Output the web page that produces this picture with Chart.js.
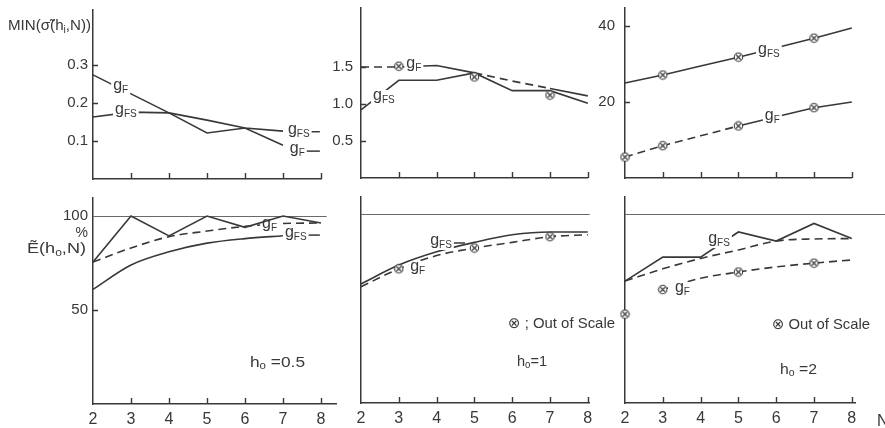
<!DOCTYPE html>
<html>
<head>
<meta charset="utf-8">
<title>MIN σ̃(hi,N) and Ẽ(h0,N) against N</title>
<script src="https://cdn.jsdelivr.net/npm/chart.js@4.4.1/dist/chart.umd.min.js"></script>
<style>
  html, body { margin: 0; padding: 0; background: #fff; }
  #stage { position: relative; width: 885px; height: 428px; overflow: hidden; }
  #stage canvas { position: absolute; left: 0; top: 0; }
</style>
</head>
<body>
<div id="stage"></div>
<script>
// ---------- data ----------
const N = [2, 3, 4, 5, 6, 7, 8];
const N_TO_7 = [2, 3, 4, 5, 6, 7];
const N_TICKS = [2, 3, 4, 5, 6, 7, 8];

// upper row: MIN(σ̃(hi,N))
const SIGMA_05_TICKS = [0.1, 0.2, 0.3];
const sigma05_gF  = [0.274, 0.224, 0.174, 0.121, 0.134, 0.089];
const sigma05_gFS = [0.163, 0.176, 0.174, 0.155, 0.134, 0.126];

const SIGMA_1_TICKS = [0.5, 1.0, 1.5];
const sigma1_gF  = [1.5, 1.5, 1.52, 1.42, 1.31, 1.21, 1.11];
const sigma1_gFS = [0.92, 1.32, 1.32, 1.42, 1.18, 1.18, 1.01];
const sigma1_outOfScale = [null, 1.51, null, 1.365, null, 1.12, null];

const SIGMA_2_TICKS = [20, 40];
const sigma2_gF  = [5.5, 8.5, 11.1, 13.7, 16.1, 18.5, 20];
const sigma2_gFS = [25, 27.1, 29.5, 31.8, 34.3, 36.8, 39.5];
const sigma2_gF_outOfScale  = [5.5, 8.5, null, 13.7, null, 18.5, null];
const sigma2_gFS_outOfScale = [null, 27.1, null, 31.8, null, 36.8, null];

// lower row: Ẽ(h0,N) in %
const EFF_TICKS = [50, 100];
const FULL_EFFICIENCY = 100;
const eff05_observed = [75.5, 100, 89.4, 100, 94, 100, 96.3];
const eff05_gF  = [75.5, 83, 89, 92, 94.5, 96, 96.3];
const eff05_gFS = [61, 74, 81, 85.6, 88, 89.5];

const eff1_gF  = [61.5, 71, 78, 82, 85, 88, 89];
const eff1_gFS = [63, 73, 80, 85, 89, 90.5, 90.5];
const eff1_outOfScale = [null, 71, null, 82, null, 88, null];

const eff2_observed = [64.5, 77.2, 77.2, 90.5, 85.7, 95, 87];
const eff2_gFS = [64.5, 71, 76.5, 81, 85.7, 86.8, 87];
const eff2_gF  = [null, 60, 66, 69.3, 72, 74, 75.7];
const eff2_outOfScale = [47, 60, null, 69.3, null, 74, null];

// ---------- styling helpers ----------
const INK = '#383838';
const FAMILY = '"Liberation Sans", "DejaVu Sans", Arial, sans-serif';
const DASH = [8, 5];

// ⊗ marker for values that lie out of scale
const OTIMES = (() => {
  const c = document.createElement('canvas');
  c.width = 11; c.height = 11;
  const g = c.getContext('2d');
  g.fillStyle = '#fff'; g.strokeStyle = INK; g.lineWidth = 1.1;
  g.beginPath(); g.arc(5.5, 5.5, 4.2, 0, Math.PI * 2); g.fill(); g.stroke();
  const d = 2.5;
  g.beginPath();
  g.moveTo(5.5 - d, 5.5 - d); g.lineTo(5.5 + d, 5.5 + d);
  g.moveTo(5.5 + d, 5.5 - d); g.lineTo(5.5 - d, 5.5 + d);
  g.stroke();
  return c;
})();

const pts = (xs, ys) => xs.map((x, i) => ({ x, y: ys[i] }));
function curve(xs, ys, extra) {
  return Object.assign({
    data: pts(xs, ys), borderColor: INK, borderWidth: 1.6, pointRadius: 0,
    fill: false, clip: false, spanGaps: false, tension: 0
  }, extra || {});
}
const SMOOTH = { cubicInterpolationMode: 'monotone' };
const DASHED = { borderDash: DASH };
const dashOn = idx => ({ segment: { borderDash: c => (idx.includes(c.p0DataIndex) ? DASH : undefined) } });
function marks(xs, ys) {
  return {
    data: pts(xs, ys), showLine: false, pointStyle: OTIMES, pointRadius: 5,
    clip: false, borderColor: INK, backgroundColor: '#fff'
  };
}

function font(px) { return px + 'px ' + FAMILY; }
function measureRich(ctx, parts, size, subSize) {
  let w = 0;
  for (const [t, sub] of parts) { ctx.font = font(sub ? subSize : size); w += ctx.measureText(t).width; }
  return w;
}
// parts: [text, isSubscript]; x = left edge, y = baseline; optional fitted width
function drawRich(ctx, parts, x, y, size, subSize, drop, fitWidth) {
  const w = measureRich(ctx, parts, size, subSize);
  const sx = fitWidth ? fitWidth / w : 1;
  ctx.save();
  ctx.textAlign = 'left'; ctx.textBaseline = 'alphabetic';
  ctx.translate(x, y); ctx.scale(sx, 1);
  let cx = 0;
  for (const [t, sub] of parts) {
    ctx.font = font(sub ? subSize : size);
    ctx.fillText(t, cx, sub ? drop : 0);
    cx += ctx.measureText(t).width;
  }
  ctx.restore();
  return w * sx;
}

// curve names (gF / gFS) written along the lines
function drawLabels(chart, list) {
  const { ctx, scales: { x, y } } = chart;
  list.forEach(l => {
    const px = x.getPixelForValue(l.x), py = y.getPixelForValue(l.y);
    const parts = [['g', false], [l.sub, true]];
    ctx.save();
    const w = measureRich(ctx, parts, 16, 10);
    const padL = l.padL || 2;
    ctx.fillStyle = '#fff';
    ctx.fillRect(px - padL, py - 7, w + padL + 2, 15);
    ctx.fillStyle = INK;
    drawRich(ctx, parts, px, py + 3, 16, 10, 3);
    if (l.tail) {
      ctx.strokeStyle = INK; ctx.lineWidth = 1.5;
      ctx.beginPath();
      ctx.moveTo(px + w + 2, py + 1); ctx.lineTo(x.getPixelForValue(l.tail), py + 1);
      ctx.stroke();
    }
    ctx.restore();
  });
}

function panelInk(p) {
  return {
    id: 'panelInk',
    beforeDatasetsDraw(chart) {
      if (!p.refTo) return;
      const { ctx, scales: { x, y } } = chart;
      const py = Math.round(y.getPixelForValue(FULL_EFFICIENCY)) + 0.5;
      ctx.save();
      ctx.strokeStyle = '#6a6a6a'; ctx.lineWidth = 1;
      ctx.beginPath();
      ctx.moveTo(x.getPixelForValue(2), py); ctx.lineTo(x.getPixelForValue(p.refTo), py);
      ctx.stroke();
      ctx.restore();
    },
    afterDatasetDraw(chart, args) {
      drawLabels(chart, p.labels.filter(l => l.layer === args.index));
    },
    afterDatasetsDraw(chart) {
      drawLabels(chart, p.labels.filter(l => l.layer == null));
      const { ctx, scales: { x, y } } = chart;
      ctx.save();
      ctx.strokeStyle = INK; ctx.lineWidth = 1.4;
      ctx.beginPath();
      const by = y.getPixelForValue(0);
      N_TICKS.slice(1).forEach(v => {
        const px = Math.round(x.getPixelForValue(v)) + 0.5;
        ctx.moveTo(px, by); ctx.lineTo(px, by - 6);
      });
      const lx = x.getPixelForValue(2);
      (p.yMarks || []).forEach(v => {
        const py = Math.round(y.getPixelForValue(v)) + 0.5;
        ctx.moveTo(lx, py); ctx.lineTo(lx + 5, py);
      });
      ctx.stroke();
      ctx.restore();
    }
  };
}

const pageText = {
  id: 'pageText',
  afterDraw(chart) {
    const ctx = chart.ctx;
    ctx.save();
    ctx.fillStyle = INK;
    drawRich(ctx, [['MIN(σ̃(h', false], ['i', true], [',N))', false]], 8, 30, 15, 10, 3, 83);
    ctx.font = font(14); ctx.textAlign = 'right'; ctx.textBaseline = 'alphabetic';
    ctx.fillText('%', 88, 237);
    drawRich(ctx, [['Ẽ(h', false], ['o', true], [',N)', false]], 27, 253, 15, 10, 3, 59);
    drawRich(ctx, [['h', false], ['o', true], [' =0.5', false]], 250, 367, 15, 10, 2, 55);
    drawRich(ctx, [['h', false], ['o', true], ['=1', false]], 517, 366, 15, 10, 2, 30);
    drawRich(ctx, [['h', false], ['o', true], [' =2', false]], 780, 374, 15, 10, 2, 37);
    drawRich(ctx, [['⊗ ; Out of Scale', false]], 508, 328, 15, 10, 0, 107);
    drawRich(ctx, [['⊗ Out of Scale', false]], 772, 329, 15, 10, 0, 98);
    ctx.font = font(16); ctx.textAlign = 'left';
    ctx.fillText('N', 877, 426);
    ctx.restore();
  }
};

// ---------- panels ----------
const PANELS = [
  { // h0 = 0.5, MIN σ̃
    left: 93, unitX: 38, xMax: 8, top: 10, bottom: 179, yMax: 0.4447,
    yTicks: SIGMA_05_TICKS, yMarks: SIGMA_05_TICKS, yPad: 5, fmt: v => v.toFixed(1), showN: false,
    datasets: [curve(N_TO_7, sigma05_gF), curve(N_TO_7, sigma05_gFS)],
    labels: [
      { x: 2.53, y: 0.242, sub: 'F', layer: 0 },
      { x: 2.58, y: 0.179, sub: 'FS', layer: 1 },
      { x: 7.13, y: 0.127, sub: 'FS', tail: 7.97 },
      { x: 7.18, y: 0.076, sub: 'F', tail: 7.97 }
    ]
  },
  { // h0 = 1, MIN σ̃
    left: 361, unitX: 37.8, xMax: 8, top: 8, bottom: 178, yMax: 2.297,
    yTicks: SIGMA_1_TICKS, yMarks: SIGMA_1_TICKS, yPad: 8, fmt: v => v.toFixed(1), showN: false,
    datasets: [
      marks(N, sigma1_outOfScale),
      curve(N, sigma1_gF, dashOn([0, 3, 4])),
      curve(N, sigma1_gFS)
    ],
    labels: [
      { x: 3.2, y: 1.527, sub: 'F', layer: 1 },
      { x: 2.32, y: 1.095, sub: 'FS', layer: 2 }
    ]
  },
  { // h0 = 2, MIN σ̃
    left: 625, unitX: 37.8, xMax: 8, top: 8, bottom: 178, yMax: 44.74,
    yTicks: SIGMA_2_TICKS, yMarks: SIGMA_2_TICKS, yPad: 10, fmt: v => String(v), showN: false,
    datasets: [
      marks(N, sigma2_gFS_outOfScale),
      marks(N, sigma2_gF_outOfScale),
      curve(N, sigma2_gFS),
      curve(N, sigma2_gF, dashOn([0, 1, 2]))
    ],
    labels: [
      { x: 5.52, y: 33.5, sub: 'FS', layer: 2 },
      { x: 5.7, y: 16, sub: 'F', layer: 3 }
    ]
  },
  { // h0 = 0.5, Ẽ
    left: 93, unitX: 38, xMax: 8.42, top: 198, bottom: 404, yMax: 109.6, refTo: 8.15,
    yTicks: EFF_TICKS, yMarks: [50], yPad: 5, fmt: v => String(v), showN: true,
    datasets: [
      curve(N, eff05_observed),
      curve(N, eff05_gF, Object.assign({}, SMOOTH, DASHED)),
      curve(N_TO_7, eff05_gFS, SMOOTH)
    ],
    labels: [
      { x: 6.45, y: 95.3, sub: 'F', layer: 1 },
      { x: 7.05, y: 90.4, sub: 'FS', tail: 7.97 }
    ]
  },
  { // h0 = 1, Ẽ
    left: 361, unitX: 37.8, xMax: 8.05, top: 197, bottom: 403, yMax: 109, refTo: 8.05,
    yTicks: null, yMarks: [], yPad: 5, fmt: v => String(v), showN: true,
    datasets: [
      marks(N, eff1_outOfScale),
      curve(N, eff1_gFS, SMOOTH),
      curve(N, eff1_gF, Object.assign({}, SMOOTH, DASHED))
    ],
    labels: [
      { x: 3.83, y: 85.2, sub: 'FS', tail: 4.75 },
      { x: 3.3, y: 71.4, sub: 'F', layer: 2 }
    ]
  },
  { // h0 = 2, Ẽ
    left: 625, unitX: 37.8, xMax: 8.1, top: 197, bottom: 403, yMax: 109, refTo: 8.95,
    yTicks: null, yMarks: [], yPad: 5, fmt: v => String(v), showN: true,
    datasets: [
      marks(N, eff2_outOfScale),
      curve(N, eff2_observed),
      curve(N, eff2_gFS, Object.assign({}, SMOOTH, DASHED)),
      curve(N, eff2_gF, Object.assign({}, SMOOTH, DASHED))
    ],
    labels: [
      { x: 4.2, y: 86.2, sub: 'FS', layer: 1 },
      { x: 3.32, y: 60.3, sub: 'F', layer: 3, padL: 7 }
    ]
  }
];

const stage = document.getElementById('stage');
const zeroPadding = s => { s.paddingLeft = 0; s.paddingRight = 0; s.paddingTop = 0; s.paddingBottom = 0; };

PANELS.forEach((p, k) => {
  const cv = document.createElement('canvas');
  cv.width = 885; cv.height = 428;
  stage.appendChild(cv);
  const right = p.left + (p.xMax - 2) * p.unitX;
  // the axis boxes span the whole margin so their labels are not clipped
  const yBox = p.left;
  const xBox = 428 - p.bottom;
  const yScale = {
    type: 'linear', min: 0, max: p.yMax,
    afterFit: s => { s.width = yBox; zeroPadding(s); },
    grid: { display: false, drawTicks: false },
    border: { display: true, color: INK, width: 1.5 },
    ticks: {
      display: !!p.yTicks, padding: p.yPad, color: INK, autoSkip: false,
      font: { family: FAMILY, size: 15 }, callback: v => p.fmt(v)
    }
  };
  if (p.yTicks) yScale.afterBuildTicks = s => { s.ticks = p.yTicks.map(v => ({ value: v })); };

  new Chart(cv, {
    type: 'line',
    data: { datasets: p.datasets },
    options: {
      responsive: false, animation: false, devicePixelRatio: 1, events: [],
      layout: { padding: { left: 0, top: p.top, right: 885 - right, bottom: 0 } },
      plugins: { legend: { display: false }, tooltip: { enabled: false }, title: { display: false } },
      scales: {
        x: {
          type: 'linear', min: 2, max: p.xMax,
          afterFit: s => { s.height = xBox; zeroPadding(s); },
          afterBuildTicks: s => { s.ticks = N_TICKS.map(v => ({ value: v })); },
          grid: { display: false, drawTicks: false },
          border: { display: true, color: INK, width: 1.5 },
          ticks: {
            display: p.showN, padding: 6, color: INK, autoSkip: false, maxRotation: 0,
            font: { family: FAMILY, size: 16 }, callback: v => String(v)
          }
        },
        y: yScale
      }
    },
    plugins: k === 0 ? [panelInk(p), pageText] : [panelInk(p)]
  });
});
</script>
</body>
</html>
